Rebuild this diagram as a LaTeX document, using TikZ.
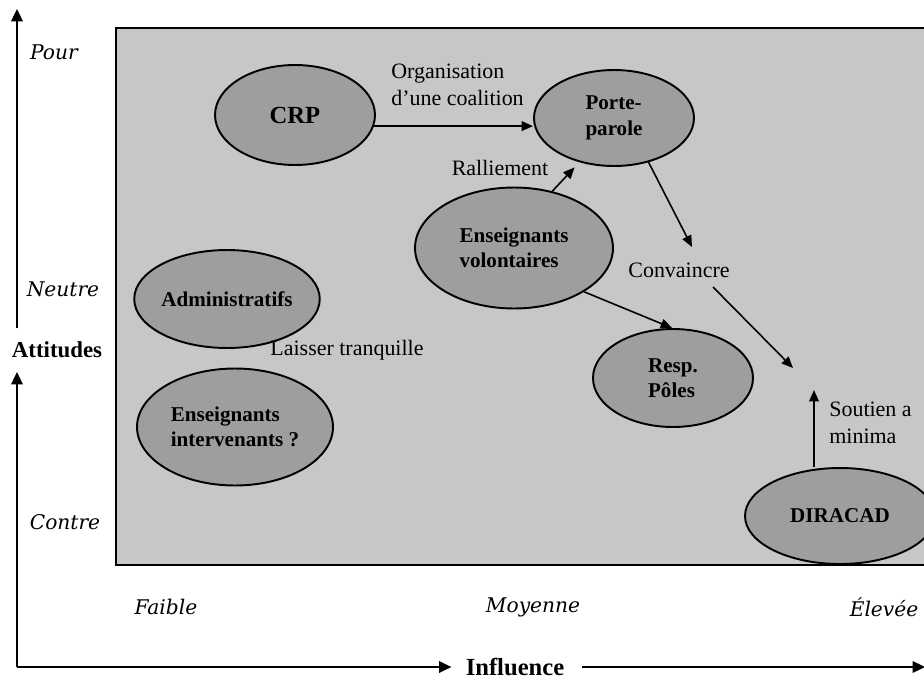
\documentclass[tikz,border=0pt]{standalone}
\usepackage{fontspec}
\setmainfont{Liberation Serif}
\newfontfamily\levelfont{DejaVu Serif}
\usetikzlibrary{arrows.meta,shapes.geometric}

\begin{document}
\begin{tikzpicture}[x=0.02cm,y=-0.02cm,
  bubble/.style={ellipse, draw=black, line width=1.1pt, fill=black!38,
    inner sep=0pt, align=left, font=\fontsize{12}{14.5}\selectfont\bfseries},
  tag/.style={font=\fontsize{12.5}{15}\selectfont, inner sep=0pt, align=left},
  level/.style={font=\levelfont\itshape\fontsize{11.5}{14}\selectfont, inner sep=0pt},
  axisname/.style={font=\fontsize{13}{15}\selectfont\bfseries, inner sep=0pt},
  axisline/.style={line width=1.1pt, -{Triangle[length=7pt,width=6.5pt]}},
  link/.style={line width=0.9pt, -{Triangle[length=6.5pt,width=5.5pt]}}]
\useasboundingbox (0,0) rectangle (924,680);
\fill[white] (0,0) rectangle (924,680);

% grey field of the map
\draw[line width=1pt, fill=black!22] (116,28) rectangle (935,565);

% actors
\node[bubble, minimum width=3.2cm, minimum height=2cm, font=\fontsize{14}{16}\selectfont\bfseries] (crp) at (295,115) {CRP};
\node[bubble, minimum width=3.2cm, minimum height=1.92cm] (porte) at (614,118) {Porte-\\parole};
\node[bubble, minimum width=3.96cm, minimum height=2.42cm] (vol) at (514,248) {Enseignants\\volontaires};
\node[bubble, minimum width=3.6cm, minimum height=1.96cm] (adm) at (227,299) {Administratifs};
\node[bubble, minimum width=3.92cm, minimum height=2.34cm] (inter) at (235,427) {Enseignants\\intervenants ?};
\node[bubble, minimum width=3.2cm, minimum height=1.96cm] (resp) at (673,378) {Resp.\\Pôles};
\node[bubble, minimum width=3.8cm, minimum height=1.92cm] (dir) at (840,516) {DIRACAD};

% strategy labels
\node[tag, anchor=west] (org) at (391,85) {Organisation\\d'une coalition};
\node[tag] (ral) at (500,168) {Ralliement};
\node[tag] (conv) at (679,270) {Convaincre};
\node[tag] (laisser) at (347,350) {Laisser tranquille};
\node[tag, anchor=west] (sout) at (829,423) {Soutien a\\minima};

% strategy arrows
\coordinate (c1) at (692,247);
\coordinate (c2) at (713,287);
\coordinate (c3) at (793,368);
\coordinate (c4) at (814,390);
\draw[link] (crp.-8) -- (crp.-8 -| porte.west);
\draw[link, shorten >=4pt] (vol.56) -- (porte.232);
\draw[link] (porte.-52) -- (c1);
\draw[link] (c2) -- (c3);
\draw[link] (vol.-32) -- (resp.91);
\draw[link] (c4 |- dir.north) -- (c4);

% axes
\node[level] (pour) at (54,52) {Pour};
\node[level] (neutre) at (63,289) {Neutre};
\node[axisname] (att) at (57,350) {Attitudes};
\node[level] (contre) at (65,522) {Contre};
\node[level] (faible) at (166,607) {Faible};
\node[level] (moy) at (533,607) {Moyenne};
\node[level] (elev) at (884,607) {Élevée};
\node[axisname, font=\fontsize{14}{16}\selectfont\bfseries] (infl) at (515,667) {Influence};

\coordinate (ytop) at (17,9);
\coordinate (ymid) at (17,328);
\coordinate (ylow) at (17,372);
\coordinate (orig) at (17,667);
\coordinate (xend) at (925,667);
\draw[axisline] (ymid) -- (ytop);
\draw[axisline] (orig) -- (ylow);
\draw[axisline, shorten >=8pt] (orig) -- (orig -| infl.west);
\draw[axisline, shorten <=10pt] (infl.east |- orig) -- (xend);
\end{tikzpicture}
\end{document}
